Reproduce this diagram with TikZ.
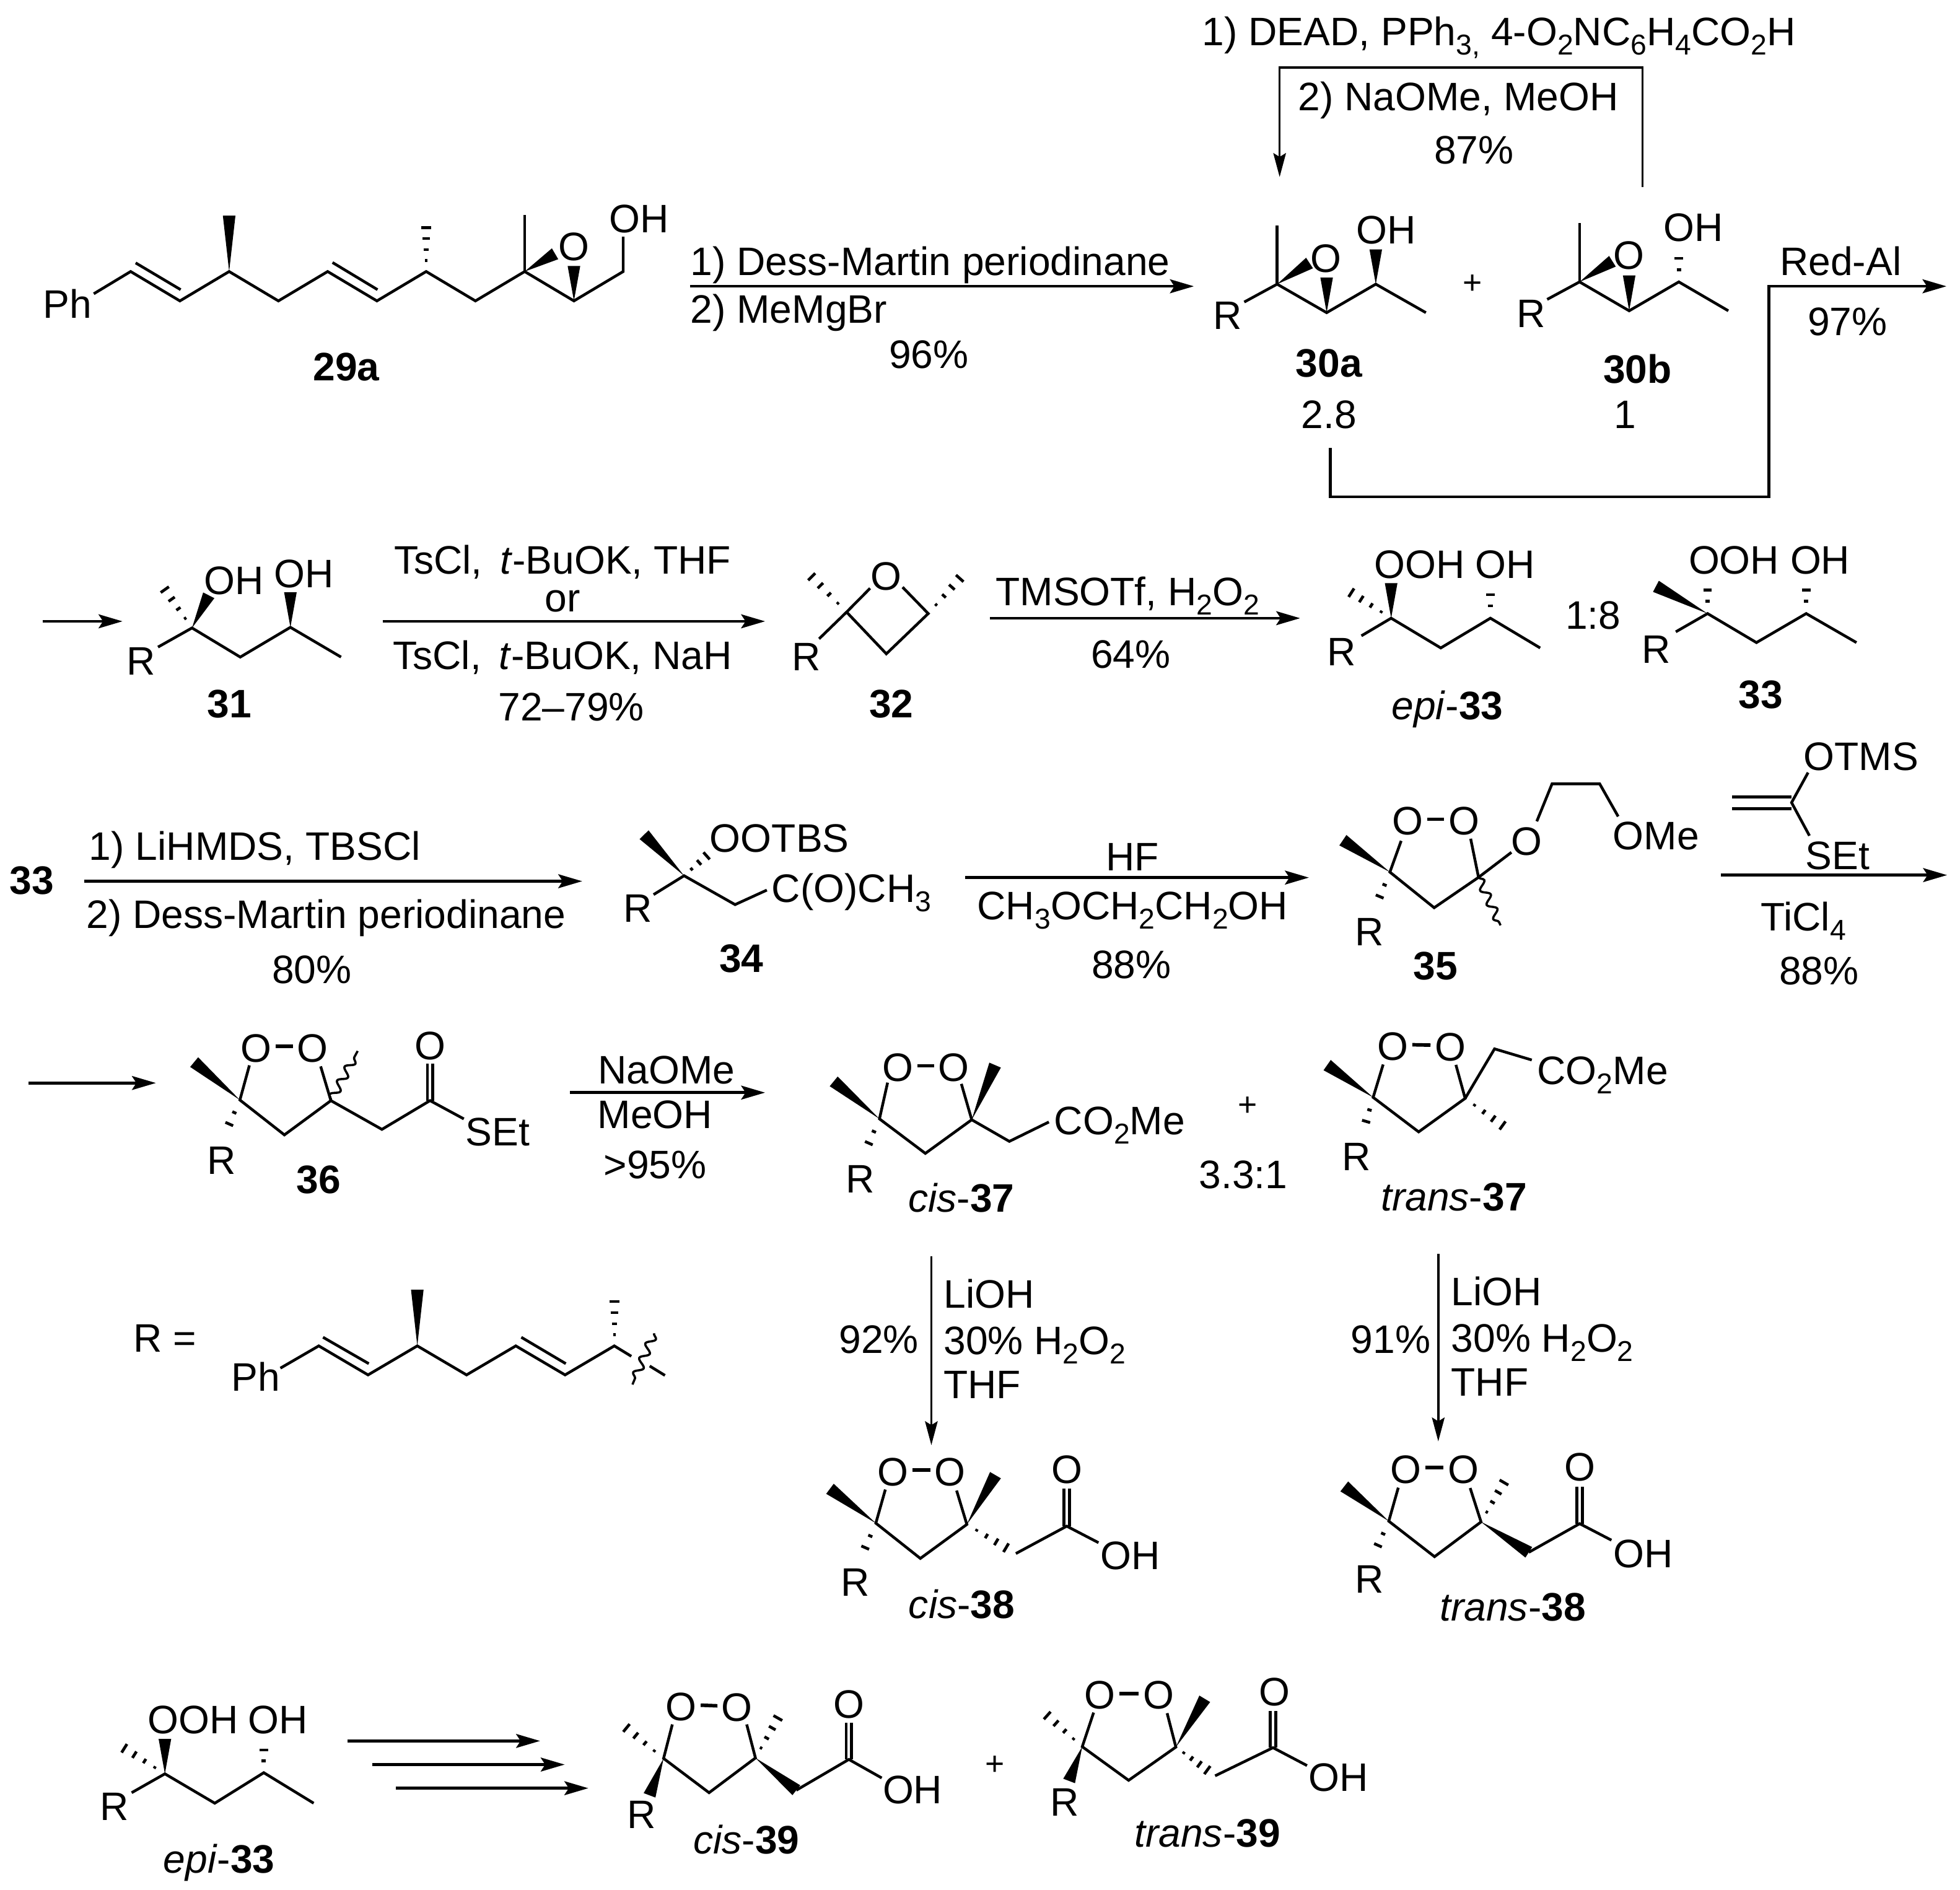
\documentclass[tikz,border=0pt]{standalone}
\usepackage{fontspec}
\setmainfont{Liberation Sans}
\usetikzlibrary{calc,arrows.meta,decorations.pathmorphing}
\newcommand{\dn}[1]{\raisebox{-0.45ex}{\fontsize{13}{14}\selectfont #1}}
\newcommand{\wedgebond}[2]{\fill (#1) -- ($(#2)!0.1cm!90:(#1)$) -- ($(#2)!0.1cm!-90:(#1)$) -- cycle;}
\newcommand{\hashbond}[3][0.2,0.4,0.6,0.8,1]{\foreach \f in {#1}{\draw[line width=1.3pt] ($(#2)!\f!(#3)!\f*0.1cm!90:(#3)$) -- ($(#2)!\f!(#3)!\f*0.1cm!-90:(#3)$);}}
\tikzset{
  every node/.style={inner sep=0pt,text height=13pt,text depth=0pt,font=\fontsize{18}{20}\selectfont},
  cmpd/.style={font=\fontsize{18}{20}\selectfont\bfseries},
  bondline/.style={line width=1.25pt},
  oolink/.style={line width=1.6pt},
  wavybond/.style={line width=1pt,decorate,decoration={snake,segment length=0.25cm,amplitude=0.065cm}},
  rxn/.style={line width=1.3pt,-{Stealth[length=0.38cm,width=0.22cm,inset=0.07cm]}},
  rxndown/.style={line width=1pt,-{Stealth[length=0.38cm,width=0.2cm,inset=0.06cm]}}
}
\begin{document}
\begin{tikzpicture}[x=0.0199cm,y=-0.0199cm]
\useasboundingbox (0,0) rectangle (1567.84,1511.8);
% 29a
\node (ph29) at (54,243) {Ph};
\draw[bondline] (75,235) -- (104.5,217.2) -- (143.9,240.7) -- (183.3,217.2) -- (222.7,240.7) -- (262.1,217.2) -- (301.5,240.7) -- (340.9,217.2) -- (380.3,240.7) -- (419.7,217.2) -- (459.1,240.7) -- (498.5,217.2) -- (498.5,189.3);
\draw[bondline] (108.5,210.3) -- (144.5,231.7);
\draw[bondline] (266,210) -- (302,231.7);
\wedgebond{183.3,217.2}{183.3,172.5}
\hashbond{340.9,217.2}{340.9,173.3}
\draw[bondline] (419.7,217.2) -- (419.7,171.7);
\wedgebond{419.7,217.2}{444,203}
\wedgebond{459.1,240.7}{459.1,212.8}
\node (o29) at (459,197) {O};
\node (oh29) at (511,174.5) {OH};
\node[cmpd] (l29a) at (277,293) {29a};
% first arrow
\coordinate (a1s) at (552,229); \coordinate (a1e) at (955,229);
\draw[rxn] (a1s) -- (a1e);
\node[anchor=west] (t1a) at (552,209) {1) Dess-Martin periodinane};
\node[anchor=west] (t1b) at (552,247) {2) MeMgBr};
\node (t1c) at (743,283) {96\%};
% 30a, 30b
\node (t2a) at (1199,24.7) {1) DEAD, PPh\dn{3,} 4-O\dn{2}NC\dn{6}H\dn{4}CO\dn{2}H};
\node (t2b) at (1166.6,77) {2) NaOMe, MeOH};
\node (t2c) at (1179,119.5) {87\%};
\coordinate (a2s) at (1313.8,149.4); \coordinate (a2c) at (1023.6,54); \coordinate (a2e) at (1023.6,141.6);
\draw[rxndown] (a2s) |- (a2c) -- (a2e);
\begin{scope}[shift={(4,0)}]
\node (r30a) at (977.9,252) {R};
\draw[bondline] (991.3,241.6) -- (1017.6,227.3) -- (1057.2,250.1) -- (1096.5,227.3) -- (1136.6,250.1);
\draw[bondline] (1017.6,227.3) -- (1017.6,180.5);
\wedgebond{1017.6,227.3}{1043.5,210.4}
\wedgebond{1057.2,250.1}{1057.2,222}
\wedgebond{1096.5,227.3}{1096.5,199.5}
\node (o30a) at (1056.4,206.2) {O};
\node (oh30a) at (1105,183.6) {OH};
\end{scope}
\node (plus30) at (1178,223.4) {\fontsize{15}{16}\selectfont +};
\node (r30b) at (1225,250.6) {R};
\draw[bondline] (1237.6,239.5) -- (1263.5,225.5) -- (1303.2,248.6) -- (1342.9,225.5) -- (1382.5,248.6);
\draw[bondline] (1263.5,225.5) -- (1263.5,178.4);
\wedgebond{1263.5,225.5}{1289.8,209}
\wedgebond{1303.2,248.6}{1303.2,220.3}
\hashbond[0.35,0.67,1]{1342.9,225.5}{1342.9,197.4}
\node (o30b) at (1302.8,203.9) {O};
\node (oh30b) at (1354.7,181.3) {OH};
\node[cmpd] (l30a) at (1063,290) {30a};
\node (n30a) at (1063,331) {2.8};
\node[cmpd] (l30b) at (1309.9,294.8) {30b};
\node (n30b) at (1300,331) {1};
\coordinate (a3s) at (1064,358.4); \coordinate (a3c) at (1414.8,397.4); \coordinate (a3d) at (1414.8,229); \coordinate (a3e) at (1557,229);
\draw[rxn] (a3s) |- (a3c) -- (a3d) -- (a3e);
\node (t3a) at (1472.3,209) {Red-Al};
\node (t3b) at (1477.8,257) {97\%};
% 31
\coordinate (a4s) at (34,497); \coordinate (a4e) at (98,497);
\draw[rxn] (a4s) -- (a4e);
\node (r31) at (113,528.6) {R};
\draw[bondline] (126.4,517.6) -- (153.6,502.3) -- (192.2,525.6) -- (232.3,501.8) -- (272.8,525.6);
\wedgebond{153.6,502.3}{167,476.2}
\hashbond{153.6,502.3}{126.4,464}
\wedgebond{232.3,501.8}{232.3,473.8}
\node (oh31a) at (187,464) {OH};
\node (oh31b) at (243.3,458.7) {OH};
\node[cmpd] (l31) at (183.6,562.6) {31};
\coordinate (a5s) at (306,497); \coordinate (a5e) at (612,497);
\draw[rxn] (a5s) -- (a5e);
\node (t5a) at (450,447.5) {TsCl,\, \textit{t}-BuOK, THF};
\node (t5b) at (450,478) {or};
\node (t5c) at (450,524) {TsCl,\, \textit{t}-BuOK, NaH};
\node (t5d) at (457,565) {72--79\%};
% 32
\begin{scope}[shift={(-4,0)}]
\node (r32) at (649,525) {R};
\node (o32) at (713,460.4) {O};
\draw[bondline] (659.2,511) -- (681.2,489.6);
\draw[bondline] (700,470.6) -- (681.2,489.6) -- (713,523) -- (746.5,490.8) -- (726,469.7);
\hashbond{681.2,489.6}{646.3,454.3}
\hashbond{746.5,490.8}{778,455.6}
\node[cmpd] (l32) at (717,562.6) {32};
\end{scope}
\coordinate (a6s) at (792,494.5); \coordinate (a6e) at (1040,494.5);
\draw[rxn] (a6s) -- (a6e);
\node (t6a) at (902,473) {TMSOTf, H\dn{2}O\dn{2}};
\node (t6b) at (904.5,523) {64\%};
% epi-33, 33
\node (rep33) at (1073,521) {R};
\draw[bondline] (1089,508.6) -- (1112.8,494.5) -- (1152.5,518.3) -- (1192.2,494.5) -- (1232,518.3);
\wedgebond{1112.8,494.5}{1112.8,466.5}
\hashbond{1112.8,494.5}{1073,469}
\hashbond[0.35,0.67,1]{1192.2,494.5}{1192.2,466.5}
\node (ooh1) at (1135.6,451) {OOH};
\node (oh1) at (1203.9,451) {OH};
\node (lep33) at (1157.8,564) {\textit{epi}-\textbf{33}};
\node (ratio33) at (1274.3,491.6) {1:8};
\node (r33) at (1325.1,518.8) {R};
\draw[bondline] (1340.5,505.4) -- (1365.9,490.8) -- (1405,514) -- (1444.8,490.8) -- (1485,514);
\wedgebond{1365.9,490.8}{1324.6,469}
\hashbond[0.35,0.67,1]{1365.9,490.8}{1365.9,462.9}
\hashbond[0.35,0.67,1]{1444.8,490.8}{1444.8,462.9}
\node (ooh2) at (1387,447.5) {OOH};
\node (oh2) at (1455.9,447.5) {OH};
\node[cmpd] (l33) at (1408.3,555.3) {33};
% 33 to 34
\node[cmpd] (s33) at (25.5,703.6) {33};
\coordinate (a7s) at (67.2,704.9); \coordinate (a7e) at (465.7,704.9);
\draw[rxn] (a7s) -- (a7e);
\node[anchor=west] (t7a) at (71,676.7) {1) LiHMDS, TBSCl};
\node[anchor=west] (t7b) at (68.7,731) {2) Dess-Martin periodinane};
\node (t7c) at (249.4,775.3) {80\%};
\begin{scope}[shift={(-4,0)}]
\node (r34) at (514,726.1) {R};
\draw[bondline] (526.8,715.6) -- (551.2,700.5) -- (592,723.6) -- (617.4,712);
\wedgebond{551.2,700.5}{519.2,667.7}
\hashbond[0.25,0.5,0.75,1]{551.2,700.5}{575.2,679.3}
\node (oo34) at (627.5,670.3) {OOTBS};
\node[anchor=west] (co34) at (621,710) {C(O)CH\dn{3}};
\node[cmpd] (l34) at (597,766.4) {34};
\end{scope}
\coordinate (a8s) at (772,702); \coordinate (a8e) at (1047,702);
\draw[rxn] (a8s) -- (a8e);
\node (t8a) at (906,685) {HF};
\node (t8b) at (906,724) {CH\dn{3}OCH\dn{2}CH\dn{2}OH};
\node (t8c) at (905,771) {88\%};
% 35
\node (o35a) at (1126,656.3) {O};
\node (o35b) at (1171,656.3) {O};
\draw[oolink] (o35a.east) ++(3,-1) -- ($(o35b.west)+(-3,-1)$);
\draw[bondline] (1120.8,672.6) -- (1111.8,697.6) -- (1147.2,726.1) -- (1182.7,701.8) -- (1176.4,670.9);
\wedgebond{1111.8,697.6}{1074.2,672.1}
\hashbond[0.35,0.67,1]{1111.8,697.6}{1099.6,726.8}
\node (r35) at (1095.4,745.1) {R};
\draw[bondline] (1182.7,701.8) -- (1209,681.8);
\draw[wavybond] (1182.7,701.8) -- (1200.3,740.2);
\node (o35c) at (1221.4,672.6) {O};
\draw[bondline] (1229.3,657) -- (1241.5,627) -- (1279.6,627) -- (1294.4,653.1);
\node (ome35) at (1324.6,668) {OMe};
\node[cmpd] (l35) at (1148.3,772) {35};
% ketene acetal
\node (otms) at (1488.7,604.5) {OTMS};
\node (set) at (1470,684) {SEt};
\draw[bondline] (1446.3,618) -- (1433.1,642) -- (1447.4,668.5);
\draw[bondline] (1385.5,637.5) -- (1433,637.5);
\draw[bondline] (1385.5,647) -- (1433,647);
\coordinate (a9s) at (1376.5,700); \coordinate (a9e) at (1557.5,700);
\draw[rxn] (a9s) -- (a9e);
\node (t9a) at (1442.6,733) {TiCl\dn{4}};
\node (t9b) at (1455,776) {88\%};
% 36
\coordinate (a10s) at (22.9,866.3); \coordinate (a10e) at (124.7,866.3);
\draw[rxn] (a10s) -- (a10e);
\node (o36a) at (205,838) {O};
\node (o36b) at (250,838) {O};
\draw[oolink] (o36a.east) ++(3,-1) -- ($(o36b.west)+(-3,-1)$);
\draw[bondline] (199.5,852.2) -- (191.9,879.9) -- (227.5,907.8) -- (264.7,880.4) -- (256.5,853);
\wedgebond{191.9,879.9}{155.3,849.6}
\hashbond[0.35,0.67,1]{191.9,879.9}{179.2,908.6}
\node (r36) at (177,927.8) {R};
\draw[wavybond] (264.7,880.4) -- (286.1,840.7);
\draw[bondline] (264.7,880.4) -- (305.5,903.4) -- (344,880.4) -- (371,895);
\draw[bondline] (341.8,880.4) -- (341.8,850.9);
\draw[bondline] (346.2,880.4) -- (346.2,850.9);
\node (o36c) at (344,836.3) {O};
\node (set36) at (398,905) {SEt};
\node[cmpd] (l36) at (255,943.2) {36};
\coordinate (a11s) at (456,874); \coordinate (a11e) at (612,874);
\draw[rxn] (a11s) -- (a11e);
\node (t11a) at (533,855.5) {NaOMe};
\node (t11b) at (524,891) {MeOH};
\node (t11c) at (524,931) {>95\%};
% cis-37
\begin{scope}[shift={(-4,0)}]
\node (o37a) at (722,853.5) {O};
\node (o37b) at (767,853.5) {O};
\draw[oolink] (o37a.east) ++(3,-1) -- ($(o37b.west)+(-3,-1)$);
\draw[bondline] (714,866) -- (707.5,895) -- (744.2,922.6) -- (781.3,895.7) -- (773,867);
\wedgebond{707.5,895}{670.9,865}
\hashbond[0.35,0.67,1]{707.5,895}{694.8,924}
\node (r37a) at (692,942.6) {R};
\wedgebond{781.3,895.7}{800,852}
\draw[bondline] (781.3,895.7) -- (811.4,913) -- (843,897.5);
\node[anchor=west] (co37a) at (847,896) {CO\dn{2}Me};
\end{scope}
\node (lc37) at (769,958) {\textit{cis}-\textbf{37}};
\node (plus37) at (998,881) {\fontsize{15}{16}\selectfont +};
\node (ratio37) at (994.5,939) {3.3:1};
% trans-37
\node (o37c) at (1114,836.7) {O};
\node (o37d) at (1160,837) {O};
\draw[oolink] (o37c.east) ++(3,-1) -- ($(o37d.west)+(-3,-1)$);
\draw[bondline] (1106.4,851.5) -- (1098.4,877.8) -- (1134.8,905.4) -- (1172,878.6) -- (1164.6,851.8);
\wedgebond{1098.4,877.8}{1061.6,852}
\hashbond[0.35,0.67,1]{1098.4,877.8}{1090,906.5}
\node (r37b) at (1085,925) {R};
\hashbond{1172,878.6}{1209.4,905.7}
\draw[bondline] (1172,878.6) -- (1195.5,839) -- (1225.3,847.9);
\node[anchor=west] (co37b) at (1229.3,856) {CO\dn{2}Me};
\node (lt37) at (1163,957) {\textit{trans}-\textbf{37}};
% R fragment
\begin{scope}[shift={(0,3)}]
\node (req) at (131.9,1067) {R =};
\node (phr) at (204.7,1098) {Ph};
\draw[bondline] (224.3,1091.4) -- (255,1073.6) -- (294.4,1096.8) -- (333.8,1073.6) -- (373.2,1096.8) -- (412.6,1073.6) -- (452,1096.8) -- (491.4,1073.6) -- (505,1081.9);
\draw[bondline] (258.4,1066.7) -- (295,1087.8);
\draw[bondline] (417,1066.7) -- (452.6,1087.8);
\wedgebond{333.8,1073.6}{333.8,1028.6}
\hashbond{491.4,1073.6}{491.4,1029.3}
\draw[bondline] (519.7,1089.7) -- (531.9,1097.2);
\draw[wavybond] (523.2,1063.5) -- (505.9,1104.5);
\end{scope}
% LiOH arrows
\coordinate (a12s) at (745,1005); \coordinate (a12e) at (745,1156);
\draw[rxndown] (a12s) -- (a12e);
\node[anchor=west] (t12a) at (754.5,1035) {LiOH};
\node[anchor=west] (t12b) at (754.5,1072) {30\% H\dn{2}O\dn{2}};
\node[anchor=west] (t12c) at (754.5,1107) {THF};
\node (t12d) at (703,1071) {92\%};
\coordinate (a13s) at (1150.5,1003); \coordinate (a13e) at (1150.5,1153);
\draw[rxndown] (a13s) -- (a13e);
\node[anchor=west] (t13a) at (1160.5,1033) {LiOH};
\node[anchor=west] (t13b) at (1160.5,1070) {30\% H\dn{2}O\dn{2}};
\node[anchor=west] (t13c) at (1160.5,1105) {THF};
\node (t13d) at (1112.5,1071) {91\%};
% cis-38
\begin{scope}[shift={(2,3)}]
\node (o38a) at (712.3,1174) {O};
\node (o38b) at (758.1,1174) {O};
\draw[oolink] (o38a.east) ++(3,-1) -- ($(o38b.west)+(-3,-1)$);
\draw[bondline] (706.2,1188.5) -- (698.6,1215.4) -- (734.2,1243.6) -- (771.4,1216.4) -- (763.2,1189.3);
\wedgebond{698.6,1215.4}{661.9,1187.9}
\hashbond[0.35,0.67,1]{698.6,1215.4}{685.9,1244.6}
\node (r38a) at (682.3,1262) {R};
\wedgebond{771.4,1216.4}{794.3,1177}
\hashbond{771.4,1216.4}{810.6,1239.7}
\draw[bondline] (810.6,1239.7) -- (851.3,1217.8) -- (876.7,1231);
\draw[bondline] (849.1,1217.8) -- (849.1,1187.9);
\draw[bondline] (853.5,1217.8) -- (853.5,1187.9);
\node (o38c) at (851.3,1172) {O};
\node (oh38a) at (902.2,1241) {OH};
\node (lc38) at (767.3,1280) {\textit{cis}-\textbf{38}};
\end{scope}
% trans-38
\begin{scope}[shift={(0,3)}]
\node (o38d) at (1124.6,1172) {O};
\node (o38e) at (1170.4,1172) {O};
\draw[oolink] (o38d.east) ++(3,-1) -- ($(o38e.west)+(-3,-1)$);
\draw[bondline] (1118.5,1187) -- (1110.9,1213.8) -- (1147.5,1242.2) -- (1184.7,1214.4) -- (1176,1187.3);
\wedgebond{1110.9,1213.8}{1075.3,1186}
\hashbond[0.35,0.67,1]{1110.9,1213.8}{1098,1242.6}
\node (r38b) at (1095.6,1259.6) {R};
\hashbond{1184.7,1214.4}{1207.6,1175}
\wedgebond{1184.7,1214.4}{1222.9,1238.7}
\draw[bondline] (1222.9,1238.7) -- (1263.6,1215.8) -- (1289,1229);
\draw[bondline] (1261.4,1215.8) -- (1261.4,1186);
\draw[bondline] (1265.8,1215.8) -- (1265.8,1186);
\node (o38f) at (1263.6,1170) {O};
\node (oh38b) at (1314.5,1239.2) {OH};
\node (lt38) at (1210.1,1282) {\textit{trans}-\textbf{38}};
\end{scope}
% epi-33 again
\begin{scope}[shift={(0,7)}]
\node (rep) at (91.3,1437.4) {R};
\draw[bondline] (105.3,1427) -- (131.9,1411.9) -- (171.8,1435.4) -- (211,1411) -- (250.9,1435.4);
\wedgebond{131.9,1411.9}{131.9,1384}
\hashbond{131.9,1411.9}{91.3,1386.4}
\hashbond[0.35,0.67,1]{211,1411}{211,1384}
\node (ooh3) at (154.3,1368.3) {OOH};
\node (oh3) at (222.2,1368.3) {OH};
\node (lep) at (175.3,1479.5) {\textit{epi}-\textbf{33}};
\coordinate (a14s) at (278.2,1385.6); \coordinate (a14e) at (432,1385.6);
\coordinate (a15s) at (297.8,1404.5); \coordinate (a15e) at (451.7,1404.5);
\coordinate (a16s) at (316.7,1423.4); \coordinate (a16e) at (470.6,1423.4);
\draw[rxn] (a14s) -- (a14e);
\draw[rxn] (a15s) -- (a15e);
\draw[rxn] (a16s) -- (a16e);
% cis-39
\node (o39a) at (544.8,1358) {O};
\node (o39b) at (589.6,1358.5) {O};
\draw[oolink] (o39a.east) ++(3,-1) -- ($(o39b.west)+(-3,-1)$);
\draw[bondline] (537.8,1372.4) -- (530.8,1399.6) -- (567.2,1427) -- (604.3,1399.2) -- (597.3,1372.4);
\hashbond{530.8,1399.6}{493.7,1369.1}
\wedgebond{530.8,1399.6}{519.6,1429.1}
\node (r39a) at (513,1444) {R};
\hashbond{604.3,1399.2}{626.7,1359.3}
\wedgebond{604.3,1399.2}{637,1425}
\draw[bondline] (637,1425) -- (679,1400.4) -- (705.3,1415.2);
\draw[bondline] (676.8,1400.4) -- (676.8,1370.8);
\draw[bondline] (681.2,1400.4) -- (681.2,1370.8);
\node (o39c) at (679,1356) {O};
\node (oh39a) at (730,1424.2) {OH};
\node (lc39) at (597,1464.5) {\textit{cis}-\textbf{39}};
\node (plus39) at (796,1401.2) {\fontsize{15}{16}\selectfont +};
\end{scope}
% trans-39
\begin{scope}[shift={(-6,7)}]
\node (o39d) at (885.7,1348.6) {O};
\node (o39e) at (932.6,1348.6) {O};
\draw[oolink] (o39d.east) ++(3,-1) -- ($(o39e.west)+(-3,-1)$);
\draw[bondline] (880.8,1362.9) -- (871.7,1390.2) -- (908.8,1417.1) -- (946.6,1390.5) -- (939.6,1363.4);
\hashbond{871.7,1390.2}{836.7,1359}
\wedgebond{871.7,1390.2}{861.2,1417.6}
\node (r39b) at (857.7,1434) {R};
\wedgebond{946.6,1390.5}{969.7,1351.9}
\hashbond{946.6,1390.5}{978,1413.5}
\draw[bondline] (978,1413.5) -- (1024.3,1391) -- (1051.5,1405.3);
\draw[bondline] (1022.1,1391) -- (1022.1,1361.7);
\draw[bondline] (1026.5,1391) -- (1026.5,1361.7);
\node (o39f) at (1025.7,1346) {O};
\node (oh39b) at (1076.8,1414.4) {OH};
\node (lt39) at (971.8,1458.7) {\textit{trans}-\textbf{39}};
\end{scope}
\end{tikzpicture}
\end{document}
